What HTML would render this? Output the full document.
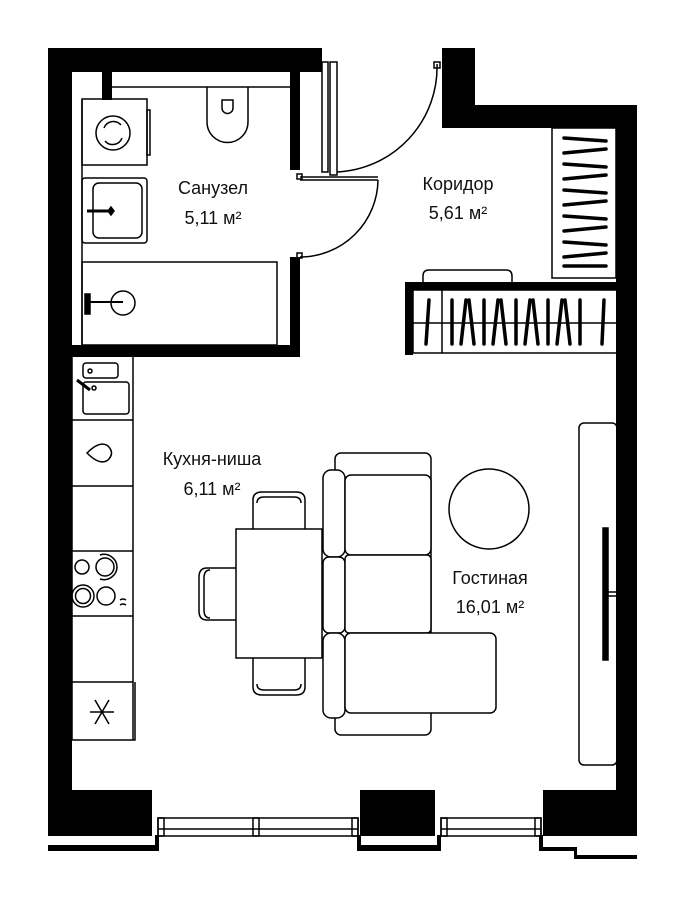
<!DOCTYPE html>
<html><head><meta charset="utf-8"><style>
html,body{margin:0;padding:0;background:#fff}
svg{display:block}
text{font-family:"Liberation Sans",sans-serif;font-size:18px;fill:#111;text-anchor:middle}
</style></head><body>
<svg width="685" height="907" viewBox="0 0 685 907" xmlns="http://www.w3.org/2000/svg">
<g fill="#000">
<rect x="48" y="48" width="274" height="24"/>
<rect x="48" y="48" width="24" height="788"/>
<rect x="102" y="72" width="10" height="28"/>
<rect x="290" y="72" width="10" height="98"/>
<rect x="290" y="257" width="10" height="98"/>
<rect x="72" y="345" width="228" height="12"/>
<rect x="442" y="48" width="33" height="80"/>
<rect x="442" y="105" width="195" height="23"/>
<rect x="616" y="105" width="21" height="731"/>
<rect x="405" y="282" width="212" height="8"/>
<rect x="405" y="282" width="8" height="73"/>
<rect x="48" y="790" width="104" height="46"/>
<rect x="360" y="790" width="75" height="46"/>
<rect x="543" y="790" width="94" height="46"/>
<polygon points="48,845 155,845 155,835 159,835 159,851 48,851"/>
<polygon points="357,835 361,835 361,845 437,845 437,835 441,835 441,851 357,851"/>
<polygon points="539,835 543,835 543,847 577,847 577,855 637,855 637,859 574,859 574,851 539,851"/>
</g>
<g fill="none" stroke="#000" stroke-width="1.5">
<rect x="72" y="72" width="30" height="18" fill="#fff" stroke="none"/>
<line x1="82" y1="100" x2="82" y2="345"/>
<line x1="112" y1="87" x2="290" y2="87"/>
<rect x="82" y="99" width="65" height="66"/>
<rect x="147" y="110" width="3" height="45"/>
<circle cx="113" cy="133" r="17"/>
<path d="M104,128 a10,10 0 0 1 17,-3 M122,138 a10,10 0 0 1 -17,3"/>
<rect x="82" y="178" width="65" height="65" rx="3"/>
<rect x="93" y="183" width="49" height="55" rx="6"/>
<line x1="87" y1="211" x2="108" y2="211" stroke-width="3"/>
<path d="M108,211 l3,-4 3,4 -3,4z" fill="#000"/>
<rect x="82" y="262" width="195" height="83"/>
<circle cx="123" cy="303" r="12"/>
<line x1="88" y1="302" x2="123" y2="302" stroke-width="2"/>
<rect x="85" y="294" width="5" height="20" fill="#000"/>
<path d="M207,87 L207,122 A20.5,20.5 0 0 0 248,122 L248,87"/>
<path d="M222,100 L222,108 A5.5,5.5 0 0 0 233,108 L233,100 Z"/>
<line x1="300" y1="177" x2="378" y2="177"/>
<line x1="300" y1="180" x2="378" y2="180"/>
<path d="M378,180 A78,78 0 0 1 300,257"/>
<rect x="297" y="174" width="5" height="5"/>
<rect x="297" y="253" width="5" height="5"/>
<rect x="322" y="62" width="6" height="110"/>
<rect x="330" y="62" width="7" height="113"/>
<path d="M437,64 A105,105 0 0 1 337,172"/>
<rect x="434" y="62" width="6" height="6"/>
<rect x="552" y="128" width="64" height="150"/>
<g stroke-width="3.5" stroke-linecap="round">
<line x1="564" y1="138" x2="606" y2="141"/>
<line x1="564" y1="153" x2="606" y2="149"/>
<line x1="564" y1="164" x2="606" y2="167"/>
<line x1="564" y1="179" x2="606" y2="175"/>
<line x1="564" y1="190" x2="606" y2="193"/>
<line x1="564" y1="205" x2="606" y2="201"/>
<line x1="564" y1="216" x2="606" y2="219"/>
<line x1="564" y1="231" x2="606" y2="227"/>
<line x1="564" y1="242" x2="606" y2="245"/>
<line x1="564" y1="257" x2="606" y2="253"/>
<line x1="564" y1="266" x2="606" y2="266"/>
</g>
<rect x="413" y="290" width="204" height="63"/>
<line x1="442" y1="290" x2="442" y2="353"/>
<line x1="413" y1="323" x2="617" y2="323"/>
<path d="M423,282 L423,276 Q423,270 429,270 L506,270 Q512,270 512,276 L512,282"/>
<g stroke-width="3.5" stroke-linecap="round">
<line x1="429" y1="300" x2="426" y2="344"/>
<line x1="452" y1="300" x2="452" y2="344"/>
<line x1="466" y1="300" x2="461" y2="344"/>
<line x1="469" y1="300" x2="474" y2="344"/>
<line x1="484" y1="300" x2="484" y2="344"/>
<line x1="498" y1="300" x2="493" y2="344"/>
<line x1="501" y1="300" x2="506" y2="344"/>
<line x1="516" y1="300" x2="516" y2="344"/>
<line x1="530" y1="300" x2="525" y2="344"/>
<line x1="533" y1="300" x2="538" y2="344"/>
<line x1="548" y1="300" x2="548" y2="344"/>
<line x1="562" y1="300" x2="557" y2="344"/>
<line x1="565" y1="300" x2="570" y2="344"/>
<line x1="580" y1="300" x2="580" y2="344"/>
<line x1="604" y1="300" x2="602" y2="344"/>
</g>
<line x1="72" y1="357" x2="72" y2="740"/>
<path d="M72,740 L135,740 L135,682 M133,357 L133,740"/>
<line x1="72" y1="420" x2="133" y2="420"/>
<line x1="72" y1="486" x2="133" y2="486"/>
<line x1="72" y1="551" x2="133" y2="551"/>
<line x1="72" y1="616" x2="133" y2="616"/>
<line x1="72" y1="682" x2="133" y2="682"/>
<rect x="83" y="382" width="46" height="32" rx="3"/>
<rect x="83" y="363" width="35" height="15" rx="3"/>
<circle cx="90" cy="371" r="2"/>
<circle cx="94" cy="388" r="2"/>
<path d="M77,380 L90,390" stroke-width="3"/>
<path d="M87,453 Q100,440 108,446 Q115,453 108,460 Q100,466 87,453 Z"/>
<circle cx="82" cy="567" r="7"/>
<circle cx="105" cy="567" r="9"/>
<path d="M100,555 A13,13 0 0 1 117,567 A13,13 0 0 1 100,579"/>
<circle cx="83" cy="596" r="11"/><circle cx="83" cy="596" r="7.5"/>
<circle cx="106" cy="596" r="9"/>
<path d="M120,600 q3,-2 6,0 M120,605 q3,-2 6,0"/>
<path d="M90,712 L114,712 M95,700 L109,724 M109,700 L95,724"/>
<rect x="236" y="529" width="86" height="129"/>
<path d="M253,529 L253,500 Q253,492 262,492 L296,492 Q305,492 305,500 L305,529"/>
<path d="M257,503 Q257,497 264,497 L294,497 Q301,497 301,503"/>
<path d="M253,658 L253,687 Q253,695 262,695 L296,695 Q305,695 305,687 L305,658"/>
<path d="M257,684 Q257,690 264,690 L294,690 Q301,690 301,684"/>
<path d="M236,568 L207,568 Q199,568 199,577 L199,611 Q199,620 207,620 L236,620"/>
<path d="M210,570 Q204,570 204,578 L204,610 Q204,618 210,618"/>
<rect x="335" y="453" width="96" height="282" rx="6"/>
<rect x="323" y="470" width="22" height="87" rx="8" fill="#fff"/>
<rect x="323" y="557" width="22" height="76" rx="6" fill="#fff"/>
<rect x="323" y="633" width="22" height="85" rx="8" fill="#fff"/>
<rect x="345" y="475" width="86" height="80" rx="6" fill="#fff"/>
<rect x="345" y="555" width="86" height="78" rx="4" fill="#fff"/>
<rect x="345" y="633" width="151" height="80" rx="6" fill="#fff"/>
<circle cx="489" cy="509" r="40"/>
<rect x="579" y="423" width="38" height="342" rx="5"/>
<rect x="603" y="528" width="5" height="132" fill="#000"/>
<line x1="608" y1="592" x2="616" y2="592"/>
<line x1="608" y1="596" x2="616" y2="596"/>
<rect x="158" y="818" width="200" height="18"/>
<line x1="158" y1="829" x2="358" y2="829"/>
<rect x="158" y="818" width="6" height="18"/>
<rect x="352" y="818" width="6" height="18"/>
<rect x="253" y="818" width="6" height="18"/>
<rect x="441" y="818" width="100" height="18"/>
<line x1="441" y1="829" x2="541" y2="829"/>
<rect x="441" y="818" width="6" height="18"/>
<rect x="535" y="818" width="6" height="18"/>
</g>
<text x="213" y="194">Санузел</text>
<text x="213" y="224">5,11 м²</text>
<text x="458" y="190">Коридор</text>
<text x="458" y="219">5,61 м²</text>
<text x="212" y="465">Кухня-ниша</text>
<text x="212" y="495">6,11 м²</text>
<text x="490" y="584">Гостиная</text>
<text x="490" y="613">16,01 м²</text>
</svg>
</body></html>
